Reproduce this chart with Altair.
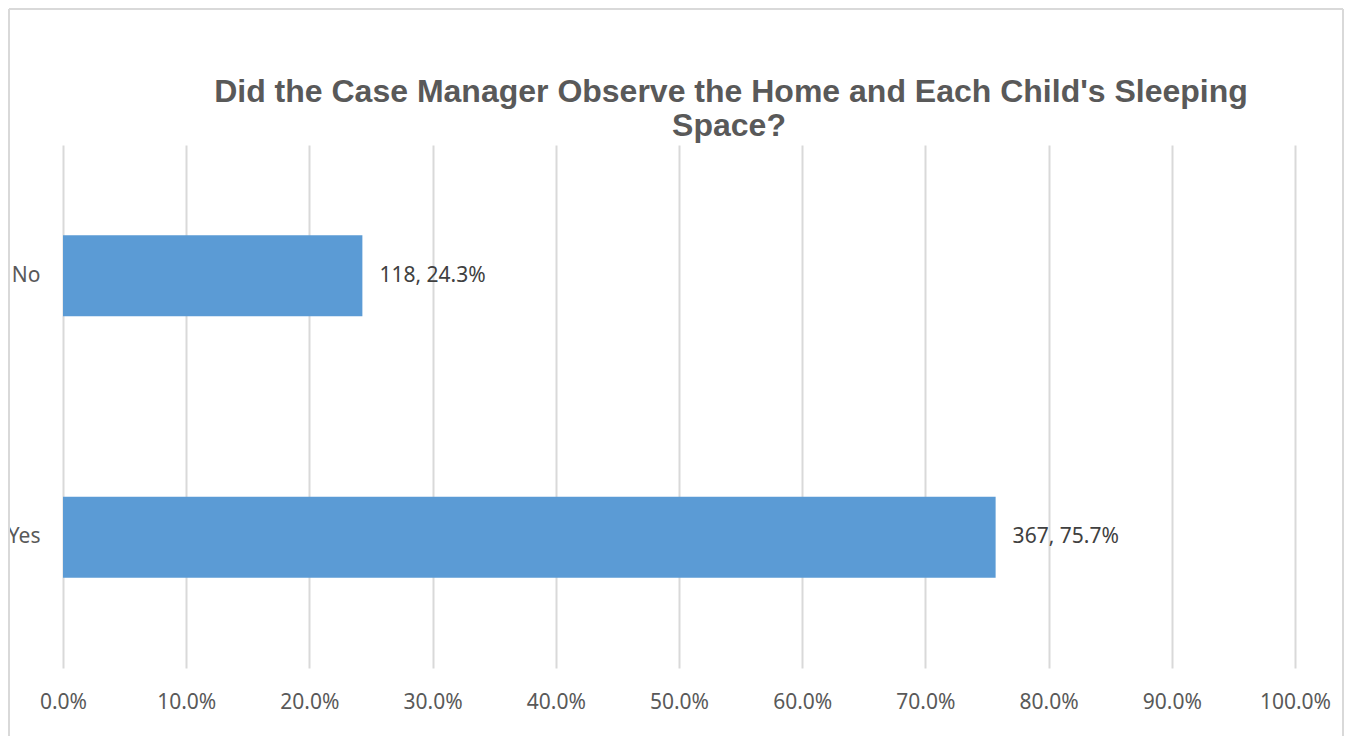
import altair as alt
import pandas as pd

categories = ["No", "Yes"]
counts = [118, 367]
percents = [24.3, 75.7]
x_ticks = [0, 0.1, 0.2, 0.3, 0.4, 0.5, 0.6, 0.7, 0.8, 0.9, 1.0]
title_lines = ["Did the Case Manager Observe the Home and Each Child's Sleeping", "Space?"]

df = pd.DataFrame({
    "category": categories,
    "count": counts,
    "share": [p / 100 for p in percents],
    "label": [f"{c}, {p:.1f}%" for c, p in zip(counts, percents)],
})
title_df = pd.DataFrame({"line": title_lines})

FONT = "Noto Sans"
GRAY = "#595959"
BORDER = "#d9d9d9"

y_enc = alt.Y("category:N", sort=categories, title=None,
              scale=alt.Scale(paddingInner=0, paddingOuter=0),
              axis=alt.Axis(domain=False, ticks=False, labelPadding=23,
                            labelFont=FONT, labelFontSize=21, labelColor=GRAY,
                            labelFontWeight="normal"))
x_enc = alt.X("share:Q", title=None, scale=alt.Scale(domain=[0, 1], nice=False),
              axis=alt.Axis(values=x_ticks, format=".1%", domain=False, ticks=False,
                            grid=True, gridColor=BORDER, gridWidth=2,
                            labelFlush=False, labelOverlap=False,
                            labelPadding=23, labelFont=FONT, labelFontSize=21,
                            labelColor=GRAY))

base = alt.Chart(df)
border_top = base.mark_rule(color=BORDER, strokeWidth=2).encode(
    x=alt.value(-54), x2=alt.value(1280), y=alt.value(-136)
)
border_left = base.mark_rule(color=BORDER, strokeWidth=2).encode(
    x=alt.value(-54), y=alt.value(-136), y2=alt.value(600)
)
border_right = base.mark_rule(color=BORDER, strokeWidth=2).encode(
    x=alt.value(1280), y=alt.value(-136), y2=alt.value(600)
)

title1 = alt.Chart(title_df).transform_filter(
    alt.datum.line == title_lines[0]
).mark_text(align="center", baseline="alphabetic", font="Liberation Sans",
            fontSize=32, fontWeight="bold", color=GRAY).encode(
    x=alt.value(668), y=alt.value(-43), text="line:N"
)
title2 = alt.Chart(title_df).transform_filter(
    alt.datum.line == title_lines[1]
).mark_text(align="center", baseline="alphabetic", font="Liberation Sans",
            fontSize=32, fontWeight="bold", color=GRAY).encode(
    x=alt.value(666), y=alt.value(-9), text="line:N"
)

bars = base.mark_bar(color="#5B9BD5", size=81).encode(x=x_enc, y=y_enc)

labels = base.mark_text(align="left", baseline="middle", dx=17,
                        font=FONT, fontSize=21, color="#404040").encode(
    x="share:Q", y=alt.Y("category:N", sort=categories), text="label:N"
)

chart = alt.layer(border_top, border_left, border_right, title1, title2,
                  bars, labels).properties(
    width=1232, height=523,
    autosize=alt.AutoSizeParams(type="none"),
    padding={"left": 55, "top": 137, "right": 49, "bottom": 68},
).configure_view(stroke=None)

chart.save("out.html", embed_options={"renderer": "svg", "actions": False})
